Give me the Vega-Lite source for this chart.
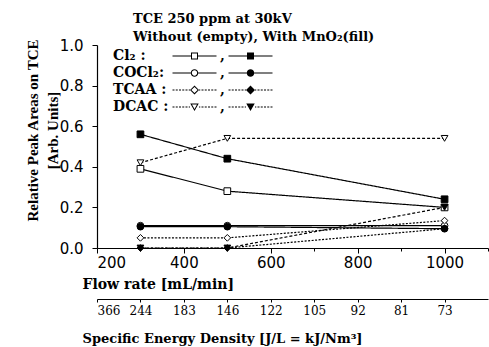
{
  "$schema": "https://vega.github.io/schema/vega-lite/v6.json",
  "width": 391,
  "height": 203,
  "autosize": "none",
  "padding": {"left": 97, "top": 45, "right": 1, "bottom": 99},
  "background": "white",
  "config": {
    "view": {"stroke": null},
    "font": "DejaVu Sans",
    "axis": {"grid": false, "domainColor": "black", "tickColor": "black", "labelColor": "black", "titleColor": "black", "domainWidth": 1.2, "tickWidth": 1}
  },
  "title": {
    "text": "TCE 250 ppm at 30kV",
    "subtitle": "Without (empty), With MnO₂(fill)",
    "anchor": "start",
    "frame": "group",
    "dx": 36,
    "offset": -6,
    "font": "DejaVu Serif",
    "fontSize": 13,
    "fontWeight": "bold",
    "color": "black",
    "subtitleFont": "DejaVu Serif",
    "subtitleFontSize": 13,
    "subtitleFontWeight": "bold",
    "subtitleColor": "black",
    "subtitlePadding": 5
  },
  "data": {"values": [
    {"series": "Cl2", "variant": "empty", "flow": 300, "value": 0.39},
    {"series": "Cl2", "variant": "empty", "flow": 500, "value": 0.28},
    {"series": "Cl2", "variant": "empty", "flow": 1000, "value": 0.20},
    {"series": "Cl2", "variant": "fill", "flow": 300, "value": 0.56},
    {"series": "Cl2", "variant": "fill", "flow": 500, "value": 0.44},
    {"series": "Cl2", "variant": "fill", "flow": 1000, "value": 0.24},
    {"series": "COCl2", "variant": "empty", "flow": 300, "value": 0.11},
    {"series": "COCl2", "variant": "empty", "flow": 500, "value": 0.11},
    {"series": "COCl2", "variant": "empty", "flow": 1000, "value": 0.11},
    {"series": "COCl2", "variant": "fill", "flow": 300, "value": 0.105},
    {"series": "COCl2", "variant": "fill", "flow": 500, "value": 0.105},
    {"series": "COCl2", "variant": "fill", "flow": 1000, "value": 0.095},
    {"series": "TCAA", "variant": "empty", "flow": 300, "value": 0.05},
    {"series": "TCAA", "variant": "empty", "flow": 500, "value": 0.05},
    {"series": "TCAA", "variant": "empty", "flow": 1000, "value": 0.135},
    {"series": "TCAA", "variant": "fill", "flow": 300, "value": 0.0},
    {"series": "TCAA", "variant": "fill", "flow": 500, "value": 0.0},
    {"series": "TCAA", "variant": "fill", "flow": 1000, "value": 0.095},
    {"series": "DCAC", "variant": "empty", "flow": 300, "value": 0.42},
    {"series": "DCAC", "variant": "empty", "flow": 500, "value": 0.54},
    {"series": "DCAC", "variant": "empty", "flow": 1000, "value": 0.54},
    {"series": "DCAC", "variant": "fill", "flow": 300, "value": 0.0},
    {"series": "DCAC", "variant": "fill", "flow": 500, "value": 0.0},
    {"series": "DCAC", "variant": "fill", "flow": 1000, "value": 0.20}
  ]},
  "resolve": {"scale": {"shape": "independent", "fill": "independent"}, "axis": {"x": "independent"}},
  "layer": [
    {
      "mark": {"type": "line", "color": "black", "strokeWidth": 1.2},
      "encoding": {
        "x": {"field": "flow", "type": "quantitative", "scale": {"domain": [200, 1100], "nice": false},
          "axis": {
            "values": [200, 300, 400, 500, 600, 700, 800, 900, 1000, 1100],
            "labelExpr": "datum.value % 200 == 0 && datum.value <= 1000 ? datum.label : ''",
            "format": "d",
            "labelFont": "DejaVu Sans", "labelFontSize": 15, "labelPadding": 2,
            "tickSize": {"condition": {"test": "datum.value % 200 == 0", "value": 5}, "value": 3},
            "title": "Flow rate [mL/min]",
            "titleFont": "DejaVu Serif", "titleFontSize": 14, "titleFontWeight": "bold",
            "titleAnchor": "start", "titleAlign": "left", "titleBaseline": "middle",
            "titleX": -15, "titleY": 36
          }},
        "y": {"field": "value", "type": "quantitative", "scale": {"domain": [0, 1], "nice": false},
          "axis": {
            "values": [0, 0.1, 0.2, 0.3, 0.4, 0.5, 0.6, 0.7, 0.8, 0.9, 1.0],
            "labelExpr": "round(datum.value*10) % 2 == 0 ? format(datum.value, '.1f') : ''",
            "labelFont": "DejaVu Sans", "labelFontSize": 15, "labelPadding": 9,
            "tickSize": {"condition": {"test": "round(datum.value*10) % 2 == 0", "value": 5}, "value": 3},
            "title": ["Relative Peak Areas on TCE", "[Arb. Units]"],
            "titleFont": "Liberation Serif", "titleFontSize": 15, "titleFontWeight": "bold",
            "titleAngle": -90, "titleAlign": "center", "titleBaseline": "middle", "titleLineHeight": 20,
            "titleX": -65, "titleY": 85
          }},
        "detail": [{"field": "series"}, {"field": "variant"}],
        "strokeDash": {"field": "series", "type": "nominal",
          "scale": {"domain": ["Cl2", "COCl2", "TCAA", "DCAC"], "range": [[1, 0], [1, 0], [2, 1.5], [3, 2]]},
          "legend": null}
      }
    },
    {
      "mark": {"type": "point", "filled": true, "stroke": "black", "strokeWidth": 1, "size": 45, "opacity": 1},
      "encoding": {
        "x": {"field": "flow", "type": "quantitative", "scale": {"domain": [200, 1100], "nice": false}, "axis": null},
        "y": {"field": "value", "type": "quantitative"},
        "shape": {"field": "series", "type": "nominal",
          "scale": {"domain": ["Cl2", "COCl2", "TCAA", "DCAC"], "range": ["square", "circle", "diamond", "triangle-down"]},
          "legend": null},
        "fill": {"field": "variant", "type": "nominal",
          "scale": {"domain": ["empty", "fill"], "range": ["white", "black"]},
          "legend": null}
      }
    },
    {
      "data": {"values": []},
      "mark": {"type": "rule", "color": "black"},
      "encoding": {
        "x": {"field": "flow", "type": "quantitative", "scale": {"domain": [200, 1100], "nice": false},
          "axis": {
            "orient": "bottom", "offset": 51,
            "values": [200, 300, 400, 500, 600, 700, 800, 900, 1000],
            "labelExpr": "{'200':'366','300':'244','400':'183','500':'146','600':'122','700':'105','800':'92','900':'81','1000':'73'}[datum.value + '']",
            "labelFont": "DejaVu Serif", "labelFontSize": 12, "labelPadding": 3, "tickSize": 3,
            "title": "Specific Energy Density [J/L = kJ/Nm³]",
            "titleFont": "DejaVu Serif", "titleFontSize": 13, "titleFontWeight": "bold",
            "titleAnchor": "start", "titleAlign": "left", "titleBaseline": "middle",
            "titleX": -15, "titleY": 39
          }}
      }
    },
    {
      "data": {"values": []},
      "mark": {"type": "point", "filled": true, "color": "black", "opacity": 1},
      "encoding": {
        "shape": {"field": "key", "type": "nominal",
          "scale": {
            "domain": ["1a", "1b", "1c", "2a", "2b", "2c", "3a", "3b", "3c", "4a", "4b", "4c"],
            "range": [
              "M-0.7,0Z",
              "M-0.7,-0.12H3V0.12H-0.7ZM4.4,-0.12H8.1V0.12H4.4ZM3,-0.7H4.4V0.7H3ZM3.2,-0.5V0.5H4.2V-0.5Z",
              "M-0.7,-0.12H3V0.12H-0.7ZM4.4,-0.12H8.1V0.12H4.4ZM3,-0.7H4.4V0.7H3Z",
              "M-0.7,0Z",
              "M-0.7,-0.12H2.95V0.12H-0.7ZM4.45,-0.12H8.1V0.12H4.45ZM2.95,0A0.75,0.75,0,1,1,4.45,0A0.75,0.75,0,1,1,2.95,0ZM3.17,0A0.53,0.53,0,1,0,4.23,0A0.53,0.53,0,1,0,3.17,0Z",
              "M-0.7,-0.12H2.95V0.12H-0.7ZM4.45,-0.12H8.1V0.12H4.45ZM2.95,0A0.75,0.75,0,1,1,4.45,0A0.75,0.75,0,1,1,2.95,0Z",
              "M-0.7,0Z",
              "M-0.7,-0.1H-0.3V0.1H-0.7ZM-0.05,-0.1H0.35V0.1H-0.05ZM0.6,-0.1H1V0.1H0.6ZM1.25,-0.1H1.65V0.1H1.25ZM1.9,-0.1H2.3V0.1H1.9ZM2.55,-0.1H2.8V0.1H2.55ZM4.6,-0.1H4.85V0.1H4.6ZM5.1,-0.1H5.5V0.1H5.1ZM5.75,-0.1H6.15V0.1H5.75ZM6.4,-0.1H6.8V0.1H6.4ZM7.05,-0.1H7.45V0.1H7.05ZM7.7,-0.1H8.1V0.1H7.7ZM3.7,-0.9L4.6,0L3.7,0.9L2.8,0ZM3.7,-0.62L3.08,0L3.7,0.62L4.32,0Z",
              "M-0.7,-0.1H-0.3V0.1H-0.7ZM-0.05,-0.1H0.35V0.1H-0.05ZM0.6,-0.1H1V0.1H0.6ZM1.25,-0.1H1.65V0.1H1.25ZM1.9,-0.1H2.3V0.1H1.9ZM2.55,-0.1H2.8V0.1H2.55ZM4.6,-0.1H4.85V0.1H4.6ZM5.1,-0.1H5.5V0.1H5.1ZM5.75,-0.1H6.15V0.1H5.75ZM6.4,-0.1H6.8V0.1H6.4ZM7.05,-0.1H7.45V0.1H7.05ZM7.7,-0.1H8.1V0.1H7.7ZM3.7,-0.9L4.6,0L3.7,0.9L2.8,0Z",
              "M-0.7,0Z",
              "M-0.7,-0.1H-0.3V0.1H-0.7ZM-0.05,-0.1H0.35V0.1H-0.05ZM0.6,-0.1H1V0.1H0.6ZM1.25,-0.1H1.65V0.1H1.25ZM1.9,-0.1H2.3V0.1H1.9ZM2.55,-0.1H2.8V0.1H2.55ZM4.6,-0.1H4.85V0.1H4.6ZM5.1,-0.1H5.5V0.1H5.1ZM5.75,-0.1H6.15V0.1H5.75ZM6.4,-0.1H6.8V0.1H6.4ZM7.05,-0.1H7.45V0.1H7.05ZM7.7,-0.1H8.1V0.1H7.7ZM2.85,-0.7L4.55,-0.7L3.7,0.8ZM3.2,-0.5L3.7,0.38L4.2,-0.5Z",
              "M-0.7,-0.1H-0.3V0.1H-0.7ZM-0.05,-0.1H0.35V0.1H-0.05ZM0.6,-0.1H1V0.1H0.6ZM1.25,-0.1H1.65V0.1H1.25ZM1.9,-0.1H2.3V0.1H1.9ZM2.55,-0.1H2.8V0.1H2.55ZM4.6,-0.1H4.85V0.1H4.6ZM5.1,-0.1H5.5V0.1H5.1ZM5.75,-0.1H6.15V0.1H5.75ZM6.4,-0.1H6.8V0.1H6.4ZM7.05,-0.1H7.45V0.1H7.05ZM7.7,-0.1H8.1V0.1H7.7ZM2.85,-0.7L4.55,-0.7L3.7,0.8Z"
            ]
          },
          "legend": {
            "orient": "none", "direction": "horizontal", "legendX": -35, "legendY": 4, "title": null,
            "columns": 3, "columnPadding": -17, "rowPadding": 3, "padding": 0,
            "symbolSize": 100, "symbolStrokeWidth": 0, "symbolFillColor": "black", "symbolOpacity": 1,
            "labelExpr": "{'1a':'Cl₂ :','1b':',     ','1c':'','2a':'COCl₂:','2b':',     ','2c':'','3a':'TCAA :','3b':',     ','3c':'','4a':'DCAC :','4b':',     ','4c':''}[datum.label]",
            "labelFont": "DejaVu Serif", "labelFontSize": 14, "labelFontWeight": "bold", "labelColor": "black",
            "labelOffset": 37
          }}
      }
    }
  ]
}
